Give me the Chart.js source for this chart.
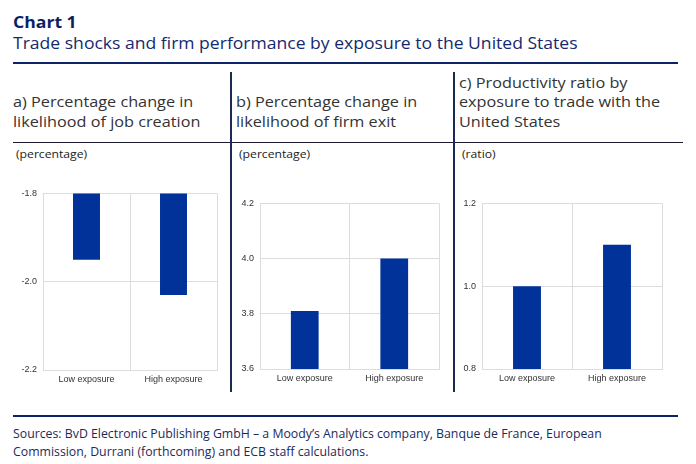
<!DOCTYPE html>
<html>
<head>
<meta charset="utf-8">
<script src="https://cdn.jsdelivr.net/npm/chart.js@4.4.0/dist/chart.umd.min.js"></script>
<style>
  html, body { margin:0; padding:0; background:#fff; width:696px; height:464px; overflow:hidden; position:relative; font-family:"Open Sans", sans-serif; }
  .t { position:absolute; white-space:nowrap; transform-origin:0 0; }
  .rule { position:absolute; background:#0c2367; }
  canvas { position:absolute; }
</style>
</head>
<body>
<div class="t" style="left:13px;top:11.5px;font-size:16px;line-height:20px;font-weight:700;color:#0b1f66;transform:scaleX(1.1);">Chart 1</div>
<div class="t" style="left:13px;top:33px;font-size:16px;line-height:20px;color:#14296e;transform:scaleX(1.097);">Trade shocks and firm performance by exposure to the United States</div>
<div class="rule" style="left:13px;top:62px;width:665px;height:2px;"></div>

<div class="t" style="left:13px;top:92px;font-size:14px;line-height:19.5px;color:#333;transform:scaleX(1.16);">a) Percentage change in<br>likelihood of job creation</div>
<div class="t" style="left:236px;top:92px;font-size:14px;line-height:19.5px;color:#333;transform:scaleX(1.16);">b) Percentage change in<br>likelihood of firm exit</div>
<div class="t" style="left:459px;top:72.5px;font-size:14px;line-height:19.5px;color:#333;transform:scaleX(1.16);">c) Productivity ratio by<br>exposure to trade with the<br>United States</div>

<div class="rule" style="left:13px;top:142px;width:670px;height:1px;background:#1a1a2e;"></div>
<div class="rule" style="left:230px;top:72px;width:1.5px;height:320px;background:#1b2a55;"></div>
<div class="rule" style="left:453px;top:72px;width:1.5px;height:320px;background:#1b2a55;"></div>

<div class="t" style="left:16px;top:147px;font-size:10.5px;line-height:14px;color:#222;transform:scaleX(1.16);">(percentage)</div>
<div class="t" style="left:239px;top:147px;font-size:10.5px;line-height:14px;color:#222;transform:scaleX(1.16);">(percentage)</div>
<div class="t" style="left:462px;top:147px;font-size:10.5px;line-height:14px;color:#222;transform:scaleX(1.16);">(ratio)</div>

<canvas id="ca"></canvas>
<canvas id="cb"></canvas>
<canvas id="cc"></canvas>

<div class="rule" style="left:13px;top:415px;width:665px;height:2px;"></div>
<div class="t" style="left:13px;top:425px;font-size:12px;line-height:17.5px;color:#1a2a5c;transform:scaleX(1.025);">Sources: BvD Electronic Publishing GmbH – a Moody’s Analytics company, Banque de France, European<br>Commission, Durrani (forthcoming) and ECB staff calculations.</div>

<script>
// ---- data ----
const categories = ['Low exposure', 'High exposure'];
const jobCreation = [-1.95, -2.03];
const firmExit = [3.81, 4.0];
const productivity = [1.0, 1.1];
const ticksA = [-2.2, -2.0, -1.8];
const ticksB = [3.6, 3.8, 4.0, 4.2];
const ticksC = [0.8, 1.0, 1.2];

const BAR = '#003299';
const GRID = '#dcdcdc';
const YW = 35, XH = 24, PT = 10, PR = 8;

function make(id, values, ticks, rect) {
  const cv = document.getElementById(id);
  const w = (rect.r - rect.l) + YW + PR;
  const h = (rect.b - rect.t) + PT + XH;
  cv.width = w; cv.height = h;
  cv.style.left = (rect.l - YW) + 'px';
  cv.style.top = (rect.t - PT) + 'px';
  cv.style.width = w + 'px'; cv.style.height = h + 'px';
  const step = +(ticks[1] - ticks[0]).toFixed(4);
  new Chart(cv, {
    type: 'bar',
    data: { labels: categories, datasets: [{ data: values, backgroundColor: BAR, borderWidth: 0, barPercentage: 0.31, categoryPercentage: 1 }] },
    options: {
      responsive: false, animation: false, devicePixelRatio: 1,
      layout: { padding: { top: PT, right: PR, left: 0, bottom: 0 } },
      plugins: { legend: { display: false }, tooltip: { enabled: false } },
      scales: {
        x: {
          offset: true,
          grid: { color: GRID, offset: true, drawTicks: false },
          border: { color: GRID },
          ticks: { color: '#333', font: { family: 'Liberation Sans', size: 9 }, padding: 4, maxRotation: 0 },
          afterFit: s => { s.height = XH; }
        },
        y: {
          min: ticks[0], max: ticks[ticks.length - 1],
          grid: { color: GRID, drawTicks: false },
          border: { color: GRID },
          ticks: { stepSize: step, color: '#333', font: { family: 'Liberation Sans', size: 9 }, padding: 6,
                   callback: v => (+v).toFixed(1) },
          afterFit: s => { s.width = YW; }
        }
      }
    }
  });
}

make('ca', jobCreation, ticksA, { l: 43, t: 192, r: 217, b: 370 });
make('cb', firmExit, ticksB, { l: 260, t: 202, r: 439, b: 369 });
make('cc', productivity, ticksC, { l: 482, t: 202, r: 662, b: 369 });
</script>
</body>
</html>
